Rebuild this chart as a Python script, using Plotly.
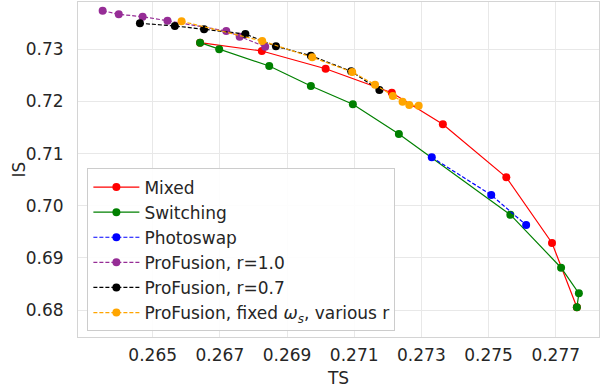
import plotly.graph_objects as go

# ---- data ----
mixed_ts = [0.26641, 0.26825, 0.27015, 0.27212, 0.27364, 0.27553, 0.27689, 0.27763]
mixed_is = [0.73127, 0.72967, 0.72628, 0.72168, 0.71562, 0.70545, 0.69285, 0.68052]

switch_ts = [0.26641, 0.26698, 0.26847, 0.26971, 0.27096, 0.27233, 0.27565, 0.27716, 0.27769, 0.27763]
switch_is = [0.73127, 0.73000, 0.72680, 0.72296, 0.71945, 0.71376, 0.69828, 0.68811, 0.68320, 0.68052]

photo_ts = [0.27331, 0.27508, 0.27612]
photo_is = [0.70929, 0.70206, 0.69630]

pf10_ts = [0.26351, 0.26399, 0.26470, 0.26544, 0.26719, 0.26759, 0.26835]
pf10_is = [0.73740, 0.73671, 0.73625, 0.73549, 0.73351, 0.73242, 0.73050]

pf07_ts = [0.26462, 0.26566, 0.26653, 0.26776, 0.26867, 0.26971, 0.27091, 0.27175]
pf07_is = [0.73499, 0.73447, 0.73384, 0.73293, 0.73058, 0.72877, 0.72578, 0.72219]

fixed_ts = [0.26586, 0.26826, 0.26975, 0.27094, 0.27162, 0.27215, 0.27244, 0.27264, 0.27292]
fixed_is = [0.73537, 0.73159, 0.72847, 0.72565, 0.72321, 0.72104, 0.71995, 0.71932, 0.71918]

x_ticks = [0.265, 0.267, 0.269, 0.271, 0.273, 0.275, 0.277]
y_ticks = [0.68, 0.69, 0.70, 0.71, 0.72, 0.73]

series = [
    ("Mixed", mixed_ts, mixed_is, "red", "solid"),
    ("Switching", switch_ts, switch_is, "green", "solid"),
    ("Photoswap", photo_ts, photo_is, "blue", "4px,2px"),
    ("ProFusion, r=1.0", pf10_ts, pf10_is, "rgb(150,45,150)", "4px,2px"),
    ("ProFusion, r=0.7", pf07_ts, pf07_is, "black", "4px,2px"),
    ("ProFusion, fixed <i>ω</i><sub><i>s</i></sub>, various r", fixed_ts, fixed_is, "orange", "4px,2px"),
]

fig = go.Figure()
for i, (name, xs, ys, color, dash) in enumerate(series):
    fig.add_trace(go.Scatter(
        x=xs, y=ys, name=name, mode="lines+markers",
        line=dict(color=color, width=1.2, dash=dash),
        marker=dict(color=color, size=8),
        legendgroup=f"g{i}",
    ))

font_color = "#262626"
fig.update_layout(
    width=600, height=388,
    margin=dict(l=78, r=1, t=2, b=51),
    paper_bgcolor="white", plot_bgcolor="white",
    font=dict(family="DejaVu Sans", size=17, color=font_color),
    showlegend=True,
    legend=dict(
        x=0.018, y=0.503, xanchor="left", yanchor="top",
        bgcolor="rgba(255,255,255,0.9)", bordercolor="#cccccc", borderwidth=1,
        font=dict(size=17, color=font_color),
        traceorder="grouped", tracegroupgap=0,
        itemwidth=46,
    ),
    xaxis=dict(
        range=[0.262776, 0.278289], tickvals=x_ticks,
        ticktext=[f"{v:.3f}" for v in x_ticks],
        showgrid=True, gridcolor="#e8e8e8", gridwidth=1,
        showline=True, linecolor="#d4d4d4", linewidth=1, mirror=True,
        zeroline=False, ticks="", ticklabelstandoff=3, automargin=False,
        title=dict(text="TS", standoff=10, font=dict(size=17)),
    ),
    yaxis=dict(
        range=[0.674822, 0.739072], tickvals=y_ticks,
        ticktext=[f"{v:.2f}" for v in y_ticks],
        showgrid=True, gridcolor="#e8e8e8", gridwidth=1,
        showline=True, linecolor="#d4d4d4", linewidth=1, mirror=True,
        zeroline=False, ticks="", ticklabelstandoff=10, automargin=False,
    ),
    annotations=[dict(
        text="IS", textangle=-90, showarrow=False,
        xref="paper", yref="paper", x=-0.115, y=0.5,
        xanchor="center", yanchor="middle",
        font=dict(size=17, color=font_color),
    )],
)

fig.write_html("out.html", config={"displayModeBar": False},
               post_script="document.body.style.margin='0';")
